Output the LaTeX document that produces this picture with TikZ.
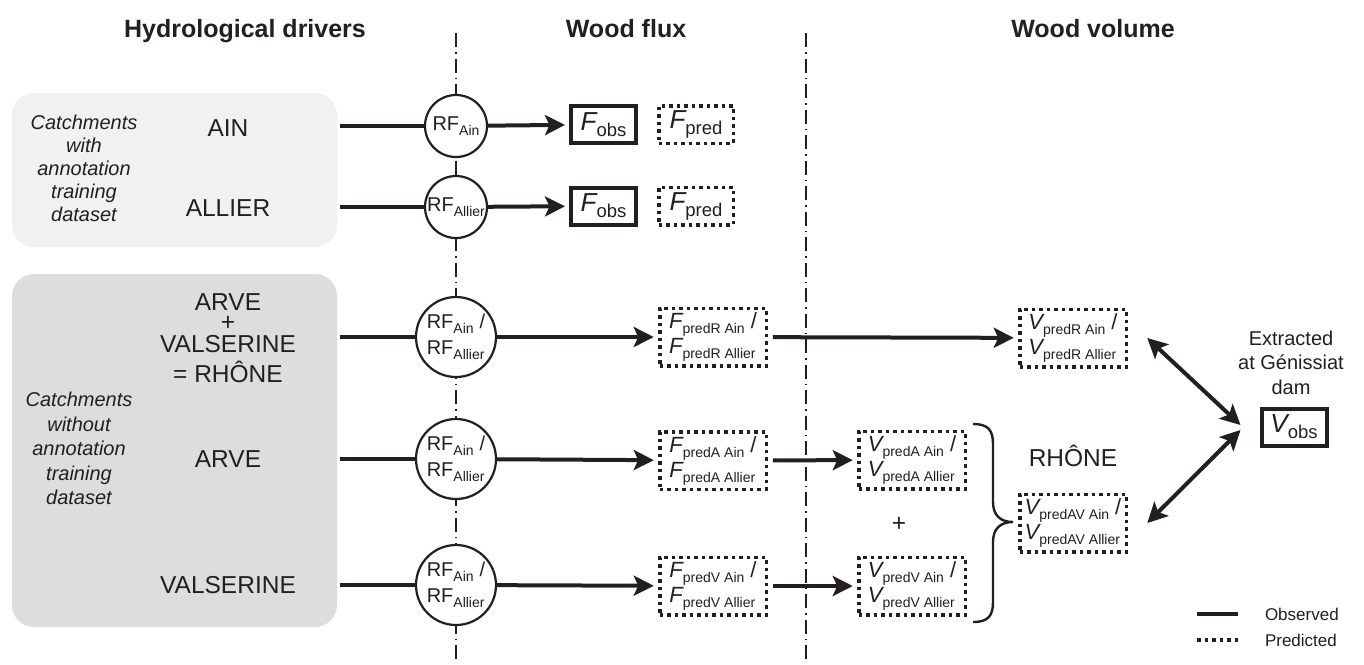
\documentclass[tikz,border=0pt]{standalone}
\usepackage{fontspec}
\setmainfont{Liberation Sans}
\usetikzlibrary{arrows.meta}
\definecolor{ink}{HTML}{231F20}
\definecolor{panelLight}{HTML}{F1F1F2}
\definecolor{panelDark}{HTML}{DCDDDE}
\newcommand{\pxfont}[2]{\fontsize{#1}{#2}\selectfont}
% RF with a lowered catchment name
\newcommand{\rfsub}[1]{RF\raisebox{-5pt}{\pxfont{14}{14}#1}}
% large italic symbol with subscript (F_obs, V_obs, F_pred)
\newcommand{\symbig}[2]{{\itshape #1}\raisebox{-6pt}{\pxfont{18.5}{18.5}#2}}
% symbol with subscript inside the two-line boxes
\newcommand{\sympair}[2]{{\itshape #1}\raisebox{-5pt}{\pxfont{14}{14}#2}}
\begin{document}
\begin{tikzpicture}[x=1pt,y=-1pt,
  every node/.style={inner sep=0pt, outer sep=0pt, text=ink},
  colhead/.style={font=\pxfont{25}{30}\bfseries, anchor=base},
  lbl/.style={font=\pxfont{24.5}{28}, anchor=base},
  note/.style={font=\pxfont{20}{23}\itshape, align=center},
  rf/.style={circle, draw=ink, line width=2.2pt, fill=white, minimum size=62pt, font=\pxfont{20}{26}},
  rfwide/.style={rf, minimum size=80pt, align=left},
  obsbox/.style={draw=ink, line width=4pt, minimum width=65pt, minimum height=37pt, font=\pxfont{26}{28}},
  predbox/.style={draw=ink, line width=3.5pt, dash pattern=on 3.5pt off 4pt, minimum width=74.5pt, minimum height=37.5pt, font=\pxfont{26}{28}},
  predpair/.style={predbox, minimum width=106.5pt, minimum height=57.5pt, align=left, font=\pxfont{22}{25}},
  lead/.style={draw=ink, line width=4pt},
  flow/.style={draw=ink, line width=4pt, shorten >=6pt, -{Stealth[length=20pt,width=20pt,inset=4.5pt]}},
  dbl/.style={draw=ink, line width=4pt, {Stealth[length=20pt,width=20pt,inset=4.5pt]}-{Stealth[length=20pt,width=20pt,inset=4.5pt]}},
  divider/.style={draw=ink, line width=1.8pt, dash pattern=on 14pt off 5pt on 1.5pt off 5pt},
  brace/.style={draw=ink, line width=2.4pt},
  legendtext/.style={font=\pxfont{17}{20}, anchor=west}
]
\useasboundingbox (0,0) rectangle (1364,664);

% column headings
\node[colhead] (hHydro) at (245,37) {Hydrological drivers};
\node[colhead] (hFlux) at (626,37) {Wood flux};
\node[colhead] (hVol) at (1093,37) {Wood volume};

% column separators
\draw[divider] (456,33) -- (456,664);
\draw[divider] (806,33) -- (806,664);

% catchment panels
\fill[panelLight, rounded corners=22pt] (12,93) rectangle (337,247);
\fill[panelDark, rounded corners=22pt] (12,274) rectangle (337,627);

\node[note] (withNote) at (84,168.75) {Catchments\\with\\annotation\\training\\dataset};
\node[note, font=\pxfont{20}{24.5}\itshape] (withoutNote) at (79,448.75) {Catchments\\without\\annotation\\training\\dataset};

\node[lbl] (ain) at (228,136.8) {AIN};
\node[lbl] (allier) at (228,216.8) {ALLIER};
\node[lbl] (sumA) at (228,310.8) {ARVE};
\node[lbl] (sumPlus) at (228,330.6) {+};
\node[lbl] (sumV) at (228,352.3) {VALSERINE};
\node[lbl] (sumR) at (228,382.8) {= RHÔNE};
\node[lbl] (arve) at (228,467.8) {ARVE};
\node[lbl] (valserine) at (228,593.8) {VALSERINE};

% start points of the driver lines
\coordinate (inAin) at (340,126);
\coordinate (inAllier) at (340,207);
\coordinate (inRhone) at (340,337);
\coordinate (inArve) at (340,459);
\coordinate (inVals) at (340,585);

% random forest models
\node[rf] (rfAin) at (456,126) {\rfsub{Ain}};
\node[rf] (rfAllier) at (456,207) {\rfsub{Allier}};
\node[rfwide] (rfRhone) at (456,337) {\rfsub{Ain}\hspace{6pt}/\\\rfsub{Allier}};
\node[rfwide] (rfArve) at (456,459) {\rfsub{Ain}\hspace{6pt}/\\\rfsub{Allier}};
\node[rfwide] (rfVals) at (456,585) {\rfsub{Ain}\hspace{6pt}/\\\rfsub{Allier}};

% wood flux
\node[obsbox] (fobsAin) at (603.5,124.5) {\symbig{F}{obs}};
\node[predbox] (fpredAin) at (696,124.5) {\symbig{F}{pred}};
\node[obsbox] (fobsAllier) at (603.5,206) {\symbig{F}{obs}};
\node[predbox] (fpredAllier) at (696,206) {\symbig{F}{pred}};
\node[predpair] (fR) at (713,337) {\sympair{F}{predR Ain}\hspace{6pt}/\\\sympair{F}{predR Allier}};
\node[predpair] (fA) at (713,460.5) {\sympair{F}{predA Ain}\hspace{6pt}/\\\sympair{F}{predA Allier}};
\node[predpair] (fV) at (713,586) {\sympair{F}{predV Ain}\hspace{6pt}/\\\sympair{F}{predV Allier}};

% wood volume
\node[predpair] (vR) at (1073,338) {\sympair{V}{predR Ain}\hspace{6pt}/\\\sympair{V}{predR Allier}};
\node[predpair] (vA) at (912,460) {\sympair{V}{predA Ain}\hspace{6pt}/\\\sympair{V}{predA Allier}};
\node[predpair] (vV) at (912,586) {\sympair{V}{predV Ain}\hspace{6pt}/\\\sympair{V}{predV Allier}};
\node[predpair] (vAV) at (1073,523) {\sympair{V}{predAV Ain}\hspace{6pt}/\\\sympair{V}{predAV Allier}};
\node[lbl] (plusAV) at (899,531.6) {+};
\node[lbl] (rhoneLbl) at (1073,466.8) {RHÔNE};

\node[obsbox] (vobs) at (1294,427) {\symbig{V}{obs}};
\node[font=\pxfont{20}{24.5}, align=center] (damLbl) at (1291,362.5) {Extracted\\at Génissiat\\dam};

% driver lines
\draw[lead] (inAin) -- (rfAin);
\draw[lead] (inAllier) -- (rfAllier);
\draw[lead] (inRhone) -- (rfRhone);
\draw[lead] (inArve) -- (rfArve);
\draw[lead] (inVals) -- (rfVals);

% model outputs
\draw[flow] (rfAin) -- (fobsAin);
\draw[flow] (rfAllier) -- (fobsAllier);
\draw[flow] (rfRhone) -- (fR);
\draw[flow] (rfArve) -- (fA);
\draw[flow] (rfVals) -- (fV);

% flux to volume
\draw[flow, shorten <=6.5pt] (fR) -- (vR);
\draw[flow, shorten <=6.5pt] (fA) -- (vA);
\draw[flow, shorten <=6.5pt] (fV) -- (vV);

% sum of Arve and Valserine volumes
\draw[brace] (973,424) .. controls (988,424) and (993,430) .. (993,444)
  -- (993,502) .. controls (993,515) and (1000,522) .. (1013,522)
  .. controls (1000,522) and (993,529) .. (993,542)
  -- (993,602) .. controls (993,616) and (988,622) .. (973,622);

% comparison with the observed volume
\draw[dbl] ([xshift=21pt]vR.east) -- ([xshift=-21pt,yshift=2pt]vobs.west);
\draw[dbl] ([xshift=21pt]vAV.east) -- ([xshift=-21pt,yshift=-3pt]vobs.west);

% legend
\coordinate (legSolidA) at (1197,614);
\coordinate (legSolidB) at (1238,614);
\coordinate (legDotA) at (1197,640);
\coordinate (legDotB) at (1238,640);
\draw[draw=ink, line width=4.5pt] (legSolidA) -- (legSolidB);
\draw[draw=ink, line width=3.5pt, dash pattern=on 3.5pt off 4pt] (legDotA) -- (legDotB);
\node[legendtext] (legObs) at (1265,614) {Observed};
\node[legendtext] (legPred) at (1265,640) {Predicted};
\end{tikzpicture}
\end{document}
